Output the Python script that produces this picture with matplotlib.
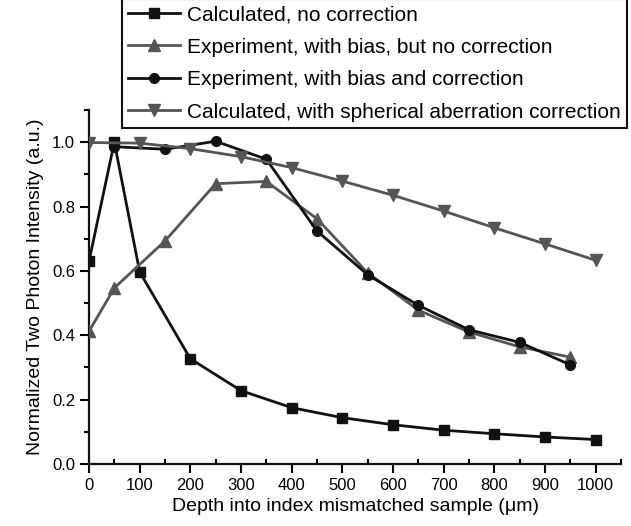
import matplotlib
matplotlib.use("Agg")
import matplotlib.pyplot as plt
from matplotlib.ticker import MultipleLocator

plt.rcParams["font.family"] = ["Liberation Sans", "DejaVu Sans"]

# depth (um) and normalized two-photon intensity for each series
calc_depth = [0, 50, 100, 200, 300, 400, 500, 600, 700, 800, 900, 1000]
calc_no_corr = [0.630, 1.0, 0.597, 0.327, 0.228, 0.175, 0.144, 0.122, 0.105, 0.094, 0.084, 0.076]

exp_bias_depth = [0, 50, 150, 250, 350, 450, 550, 650, 750, 850, 950]
exp_bias_no_corr = [0.412, 0.547, 0.693, 0.871, 0.878, 0.762, 0.594, 0.478, 0.410, 0.364, 0.332]

exp_corr_depth = [50, 150, 250, 350, 450, 550, 650, 750, 850, 950]
exp_bias_corr = [0.986, 0.978, 1.003, 0.947, 0.724, 0.588, 0.493, 0.417, 0.378, 0.308]

sph_depth = [0, 100, 200, 300, 400, 500, 600, 700, 800, 900, 1000]
calc_sph_corr = [0.999, 0.997, 0.980, 0.955, 0.921, 0.879, 0.835, 0.786, 0.734, 0.684, 0.633]

BLACK = "#111111"
GRAY = "#555555"

fig = plt.figure(figsize=(6.31, 5.26), dpi=100)
ax = fig.add_axes([89 / 631, 62 / 526, 532 / 631, 354 / 526])

ax.plot(calc_depth, calc_no_corr, color=BLACK, lw=2.0, marker="s", ms=7,
        label="Calculated, no correction", zorder=3)
ax.plot(exp_bias_depth, exp_bias_no_corr, color=GRAY, lw=2.0, marker="^", ms=8,
        label="Experiment, with bias, but no correction", zorder=3)
ax.plot(exp_corr_depth, exp_bias_corr, color=BLACK, lw=2.0, marker="o", ms=7,
        label="Experiment, with bias and correction", zorder=3)
ax.plot(sph_depth, calc_sph_corr, color=GRAY, lw=2.0, marker="v", ms=8,
        label="Calculated, with spherical aberration correction", zorder=3)

ax.set_xlim(0, 1050)
ax.set_ylim(0, 1.1)
ax.xaxis.set_minor_locator(MultipleLocator(50))
ax.yaxis.set_minor_locator(MultipleLocator(0.1))
ax.set_xticks(range(0, 1001, 100))
ax.set_yticks([0.0, 0.2, 0.4, 0.6, 0.8, 1.0])
ax.set_yticklabels(["0.0", "0.2", "0.4", "0.6", "0.8", "1.0"])

for side in ("top", "right"):
    ax.spines[side].set_visible(False)
for side in ("left", "bottom"):
    ax.spines[side].set_linewidth(1.6)
    ax.spines[side].set_color(BLACK)

ax.tick_params(axis="x", which="major", direction="out", length=6.5, width=1.5, labelsize=12)
ax.tick_params(axis="x", which="minor", direction="in", length=3.5, width=1.5)
ax.tick_params(axis="y", which="major", direction="out", length=6.5, width=1.5, labelsize=12)
ax.tick_params(axis="y", which="minor", direction="out", length=3.5, width=1.5)

ax.set_xlabel("Depth into index mismatched sample (μm)", fontsize=14, labelpad=4)
ax.set_ylabel("Normalized Two Photon Intensity (a.u.)", fontsize=14, labelpad=6)

leg = fig.legend(loc="lower left", bbox_to_anchor=(122 / 631, 1 - 128 / 526),
                 fontsize=15, frameon=True, fancybox=False, framealpha=1,
                 edgecolor=BLACK, handlelength=2.5, handletextpad=0.3,
                 labelspacing=0.65, borderpad=0.3, borderaxespad=0)
leg.get_frame().set_linewidth(1.5)

fig.savefig("out.png", dpi=100)
